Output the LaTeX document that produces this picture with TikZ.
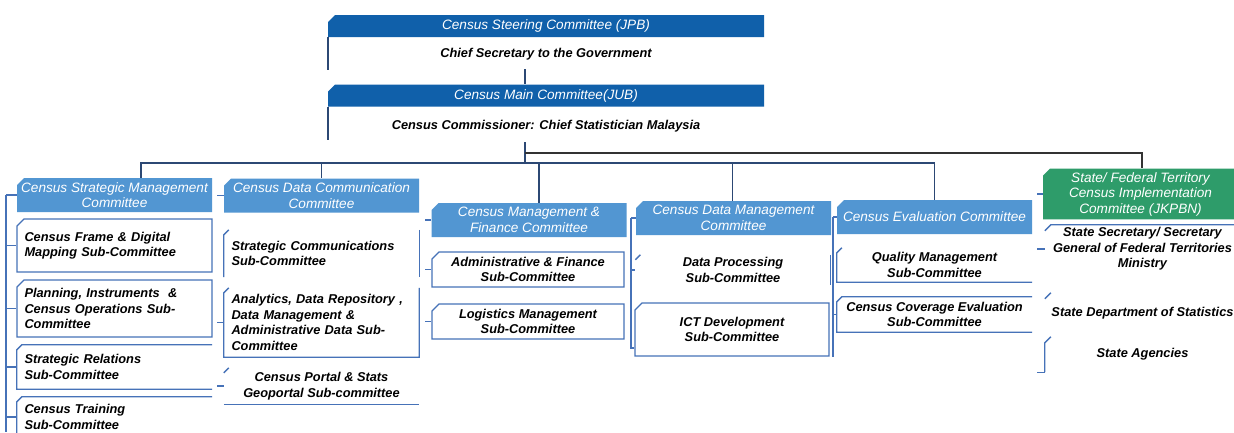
\documentclass[tikz,border=0pt]{standalone}
\usepackage{fontspec}
\setmainfont{Liberation Sans}
\usetikzlibrary{shapes.misc,calc}
\definecolor{topblue}{RGB}{16,96,170}
\definecolor{hdblue}{RGB}{82,150,210}
\definecolor{hdgreen}{RGB}{46,156,106}
\definecolor{boxline}{RGB}{70,114,184}
\definecolor{wire}{RGB}{44,72,116}
\begin{document}
\begin{tikzpicture}[x=1pt,y=-1pt,
	bar/.style={chamfered rectangle,chamfered rectangle corners=north west,chamfered rectangle sep=3.5pt,fill=topblue,text=white,inner sep=0pt,minimum width=436pt,minimum height=22pt,font=\fontsize{13.6}{15.5}\selectfont\itshape},
	hd/.style={bar,fill=hdblue,minimum width=195pt,minimum height=34pt,align=center},
	bx/.style={rectangle,inner sep=0pt,minimum width=195pt,align=center,font=\fontsize{12.8}{15.5}\selectfont\bfseries\itshape},
	fbx/.style={bx,chamfered rectangle,chamfered rectangle corners=north west,chamfered rectangle sep=3.5pt,draw=boxline,line width=1.3pt},
	lbx/.style={text width=180pt,align=left},
	ln/.style={draw=boxline,line width=1.3pt},
	wr/.style={draw=wire,line width=1.6pt}]
		\useasboundingbox (0,0) rectangle (1234,432);
		\path [fill=white] (0,0) rectangle (1234,432);
		\node [bar] (jpb) at (546,26) {Census Steering Committee (JPB)};
		\node [bx] (jpbtxt) at (546,54) {Chief Secretary to the Government};
		\node [bar] (jub) at (546,95.5) {Census Main Committee(JUB)};
		\node [bx] (jubtxt) at (546,126) {Census Commissioner: Chief Statistician Malaysia};
		\draw [wr] (jpb.west |- jpb.south) -- ++(0,33);
		\draw [wr] (jub.west |- jub.south) -- ++(0,33);
		\coordinate (jpbfoot) at (525,69);
		\coordinate (trunk) at (525,142);
		\coordinate (fork) at (525,153);
		\coordinate (bus) at (525,163);
		\draw [wr] (jpbfoot) -- (jpbfoot |- jub.north);
		\draw [wr] (trunk) -- (bus);
		\node [hd] (csm) at (114.5,195) {Census Strategic Management\\Committee};
		\node [hd] (cdc) at (321.5,195.5) {Census Data Communication\\Committee};
		\node [hd] (cmf) at (529,220) {Census Management \&\\Finance Committee};
		\node [hd] (cdm) at (733.5,218) {Census Data Management\\Committee};
		\node [hd] (cev) at (934.5,217) {Census Evaluation Committee};
		\node [hd,fill=hdgreen,minimum height=42pt] (sft) at (1140.5,194) {State/ Federal Territory\\Census Implementation\\Committee (JKPBN)};
		\foreach \n/\s in {csm/26.5,cdc/0,cmf/10,cdm/-1,cev/0}
			\draw [wr] (bus) -| ([xshift=\s pt]\n.north);
		\draw [wr,draw=black!80] (fork) -| ([xshift=1.5pt]sft.north);
		\node [fbx,lbx,minimum height=53pt] (cfd) at (114.5,245.5) {Census Frame \& Digital\\Mapping Sub-Committee};
		\node [fbx,lbx,minimum height=57pt] (pic) at (114.5,308.5) {Planning, Instruments~~\&\\Census Operations Sub-\\Committee};
		\node [bx,lbx,minimum height=44pt] (srs) at (114.5,367) {Strategic Relations\\Sub-Committee};
		\node [bx,lbx,minimum height=40pt] (cts) at (114.5,417) {Census Training\\Sub-Committee};
		\draw [ln] (srs.north east) -- ($(srs.north west)+(5,0)$) -- ($(srs.north west)+(0,5)$) |- (srs.south east);
		\draw [ln] (cts.north east) -- ($(cts.north west)+(5,0)$) -- ($(cts.north west)+(0,5)$) -- (cts.south west);
		\coordinate (r1) at (6,195);
		\coordinate (r1end) at (6,432);
		\draw [ln] (r1) -- (r1end);
		\foreach \n in {csm,cfd,pic,srs,cts}
			\draw [ln] (\n.west -| r1) -- (\n.west);
		\node [bx,lbx,minimum height=47pt] (scs) at (321.5,253.5) {Strategic Communications\\Sub-Committee};
		\draw [ln] ($(scs.north west)+(5,0)$) -- ($(scs.north west)+(0,5)$) -- (scs.south west);
		\draw [ln] (scs.north east) -- (scs.south east);
		\node [bx,lbx,minimum height=69pt] (adr) at (321.5,322.5) {Analytics, Data Repository ,\\Data Management \&\\Administrative Data Sub-\\Committee};
		\draw [ln] ($(adr.north west)+(5,0)$) -- ($(adr.north west)+(0,5)$) |- (adr.south east) -- (adr.north east);
		\node [bx,minimum height=36pt] (cps) at (321.5,386) {Census Portal \& Stats\\Geoportal Sub-committee};
		\draw [ln] ($(cps.north west)+(5,0)$) -- ($(cps.north west)+(0,5)$);
		\draw [ln] (cps.south west) -- (cps.south east);
		\coordinate (r2) at (217,0);
		\foreach \n in {cdc,adr,cps}
			\draw [ln] (\n.west -| r2) -- (\n.west);
		\node [fbx,minimum height=35pt,minimum width=192pt] (afs) at (528,269.5) {Administrative \& Finance\\Sub-Committee};
		\node [fbx,minimum height=35pt,minimum width=192pt] (lms) at (528,321.5) {Logistics Management\\Sub-Committee};
		\coordinate (r3) at (425,0);
		\foreach \n in {cmf,afs,lms}
			\draw [ln] (\n.west -| r3) -- (\n.west);
		\node [bx,minimum height=30pt] (dps) at (733,270) {Data Processing\\Sub-Committee};
		\draw [ln] ($(dps.north west)+(5,0)$) -- ($(dps.north west)+(0,5)$);
		\draw [ln] (dps.north east) -- (dps.south east);
		\node [fbx,minimum height=53pt,minimum width=194pt] (ict) at (732,329.5) {ICT Development\\Sub-Committee};
		\coordinate (r4) at (631,218);
		\coordinate (r4end) at (631,348);
		\draw [ln] (r4) -- (r4end) -- (r4end -| ict.west);
		\foreach \n in {cdm,dps}
			\draw [ln] (\n.west -| r4) -- (\n.west);
		\node [bx,minimum height=34pt] (qms) at (934.5,265) {Quality Management\\Sub-Committee};
		\draw [ln] ($(qms.north west)+(5,0)$) -- ($(qms.north west)+(0,5)$) |- (qms.south east);
		\node [bx,minimum height=35pt] (cce) at (934.5,314.5) {Census Coverage Evaluation\\Sub-Committee};
		\draw [ln] (cce.north east) -- ($(cce.north west)+(5,0)$) -- ($(cce.north west)+(0,5)$) |- (cce.south east);
		\coordinate (r5) at (833,217);
		\coordinate (r5end) at (833,357);
		\draw [ln] (r5) -- (r5end);
		\foreach \n in {cev,cce}
			\draw [ln] (\n.west -| r5) -- (\n.west);
		\node [bx,minimum height=48pt] (ssg) at (1142.5,249) {State Secretary/ Secretary\\General of Federal Territories\\Ministry};
		\draw [ln] (ssg.north east) -- ($(ssg.north west)+(6,0)$) -- ($(ssg.north west)+(0,6)$);
		\node [bx,minimum height=40pt] (sds) at (1142.5,313) {State Department of Statistics};
		\draw [ln] ($(sds.north west)+(6,0)$) -- ($(sds.north west)+(0,6)$);
		\node [bx,minimum height=35pt] (sag) at (1142.5,354.5) {State Agencies};
		\draw [ln] ($(sag.north west)+(6,0)$) -- ($(sag.north west)+(0,6)$) -- (sag.south west);
		\coordinate (r6) at (1037,0);
		\foreach \n in {sft,ssg}
			\draw [ln] (\n.west -| r6) -- (\n.west);
		\draw [ln] (sag.south west -| r6) -- (sag.south west);
\end{tikzpicture}
\end{document}
